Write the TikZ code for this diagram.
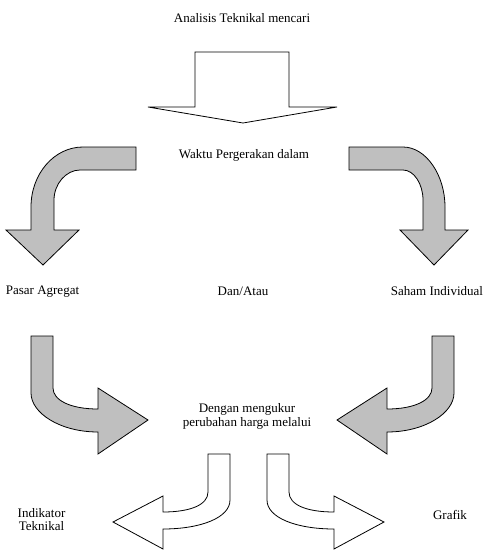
\documentclass[tikz,border=0pt]{standalone}
\usepackage{fontspec}
\setmainfont{Liberation Serif}
\begin{document}
\begin{tikzpicture}[x=1pt,y=-1pt,
  lbl/.style={inner sep=0pt,align=center,font=\fontsize{13}{13.5}\selectfont},
  grayarrow/.style={draw=black,line width=0.8pt,fill=black!25,line join=miter},
  whitearrow/.style={draw=black,line width=0.8pt,fill=white,line join=miter}]
\useasboundingbox (0,0) rectangle (491,560);
% texts
\node[lbl] (t1) at (242,18) {Analisis Teknikal mencari};
\node[lbl] (t2) at (244,155) {Waktu Pergerakan dalam};
\node[lbl] (t3) at (42.5,292) {Pasar Agregat};
\node[lbl] (t4) at (243,291) {Dan/Atau};
\node[lbl] (t5) at (437,291) {Saham Individual};
\node[lbl] (t6) at (247,416.5) {Dengan mengukur\\perubahan harga melalui};
\node[lbl] (t7) at (41.5,519.5) {Indikator\\Teknikal};
\node[lbl] (t8) at (450,515) {Grafik};
% top down arrow
\path[whitearrow] (195,52) -- (289,52) -- (289,107) -- (337,107) -- (243,123)
  -- (148,107) -- (195,107) -- cycle;
% upper left curved arrow
\path[grayarrow] (136,147) -- (83,147) .. controls (54,147) and (31,174) .. (31,207)
  -- (31,230) -- (6,230) -- (43,265) -- (79,230) -- (54,230) -- (54,200)
  .. controls (54,184) and (66,170) .. (80,170) -- (136,170) -- cycle;
% upper right curved arrow
\path[grayarrow] (349,147) -- (403,147) .. controls (426,147) and (445,175) .. (445,207)
  -- (445,230) -- (468,230) -- (434,265) -- (400,230) -- (423,230) -- (423,200)
  .. controls (423,184) and (414,170) .. (403,170) -- (349,170) -- cycle;
% lower left curved arrow
\path[grayarrow] (31,336) -- (53,336) -- (53,388) .. controls (53,400) and (70,409) .. (98,409)
  -- (98,388) -- (148,420) -- (98,454) -- (98,432)
  .. controls (60,432) and (31,413) .. (31,393) -- cycle;
% lower right curved arrow
\path[grayarrow] (454,336) -- (432,336) -- (432,388) .. controls (432,400) and (415,409) .. (387,409)
  -- (387,388) -- (337,420) -- (387,454) -- (387,432)
  .. controls (425,432) and (454,413) .. (454,393) -- cycle;
% bottom left white arrow
\path[whitearrow] (208,454) -- (230,454) -- (230,500) .. controls (230,518) and (200,529) .. (163,529)
  -- (163,549) -- (113,522) -- (163,496) -- (163,512)
  .. controls (190,512) and (208,505) .. (208,492) -- cycle;
% bottom right white arrow
\path[whitearrow] (289,454) -- (267,454) -- (267,500) .. controls (267,518) and (297,529) .. (334,529)
  -- (334,549) -- (384,522) -- (334,496) -- (334,512)
  .. controls (307,512) and (289,505) .. (289,492) -- cycle;
\end{tikzpicture}
\end{document}
